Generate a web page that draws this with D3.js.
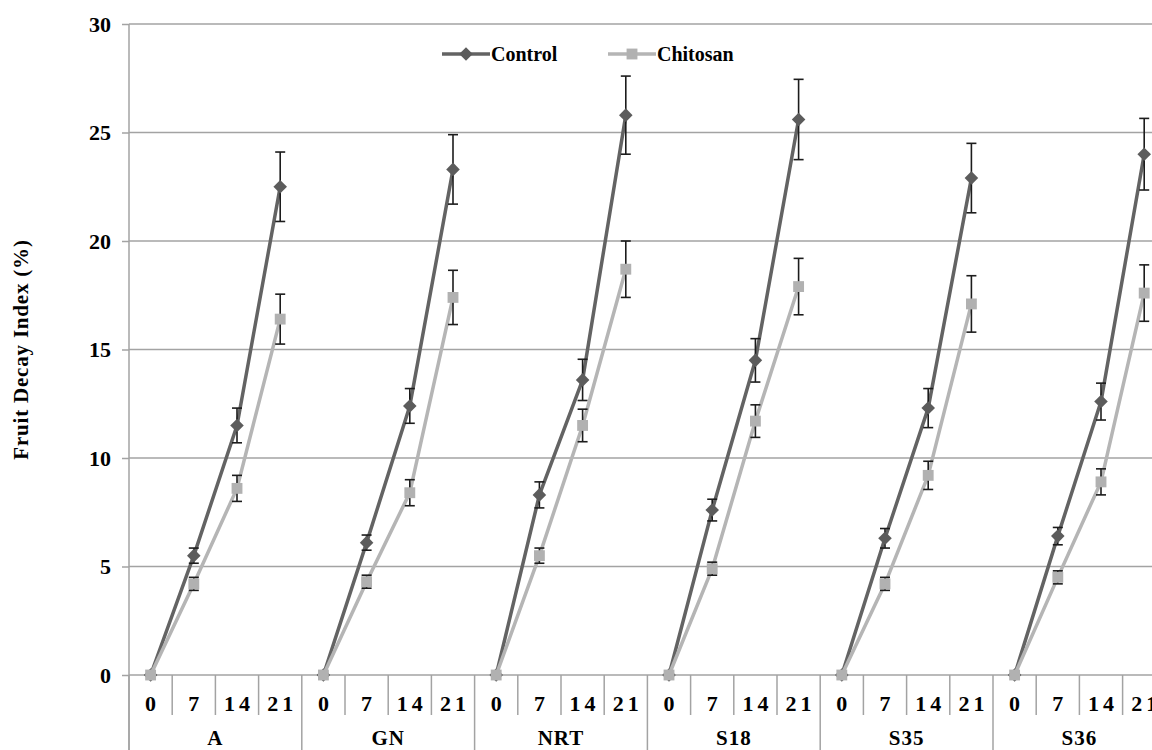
<!DOCTYPE html>
<html>
<head>
<meta charset="utf-8">
<script src="https://cdn.jsdelivr.net/npm/d3@7"></script>
<style>
  html, body { margin: 0; padding: 0; background: #fff; overflow: hidden; }
  svg { display: block; }
  text { font-family: "Liberation Serif", "Times New Roman", serif; font-weight: bold; fill: #000; }
</style>
</head>
<body>
<svg id="chart"></svg>
<script>
// cultivars on the outer axis, storage days on the inner axis
const groups = ["A", "GN", "NRT", "S18", "S35", "S36"];
const days = ["0", "7", "14", "21"];
const yTicks = [0, 5, 10, 15, 20, 25, 30];

// fruit decay index (%), one row per cultivar
const controlValues = [
  [0, 5.5, 11.5, 22.5],
  [0, 6.1, 12.4, 23.3],
  [0, 8.3, 13.6, 25.8],
  [0, 7.6, 14.5, 25.6],
  [0, 6.3, 12.3, 22.9],
  [0, 6.4, 12.6, 24.0]
];
const controlErrors = [
  [0, 0.35, 0.8, 1.6],
  [0, 0.35, 0.8, 1.6],
  [0, 0.6, 0.95, 1.8],
  [0, 0.5, 1.0, 1.85],
  [0, 0.45, 0.9, 1.6],
  [0, 0.4, 0.85, 1.65]
];
const chitosanValues = [
  [0, 4.2, 8.6, 16.4],
  [0, 4.3, 8.4, 17.4],
  [0, 5.5, 11.5, 18.7],
  [0, 4.9, 11.7, 17.9],
  [0, 4.2, 9.2, 17.1],
  [0, 4.5, 8.9, 17.6]
];
const chitosanErrors = [
  [0, 0.3, 0.6, 1.15],
  [0, 0.3, 0.6, 1.25],
  [0, 0.35, 0.75, 1.3],
  [0, 0.3, 0.75, 1.3],
  [0, 0.3, 0.65, 1.3],
  [0, 0.3, 0.6, 1.3]
];

const seriesNames = ["Control", "Chitosan"];

const W = 1152, H = 750;
const margin = { top: 24, left: 129 };
const band = 43.2;                       // width of one day slot
const plotBottom = 675;
const plotRight = margin.left + band * groups.length * days.length;

const series = [
  { name: seriesNames[0], values: controlValues, errors: controlErrors,
    line: "#636363", mark: "#5c5c5c", symbol: "diamond" },
  { name: seriesNames[1], values: chitosanValues, errors: chitosanErrors,
    line: "#b5b5b5", mark: "#b1b1b1", symbol: "square" }
];

const svg = d3.select("#chart").attr("width", W).attr("height", H);

const keys = [];
groups.forEach(g => days.forEach(d => keys.push(g + "|" + d)));

const x = d3.scaleBand()
  .domain(keys)
  .range([margin.left, plotRight]);

const y = d3.scaleLinear()
  .domain([0, 30])
  .range([plotBottom, margin.top]);

// horizontal gridlines
svg.append("g")
  .selectAll("line")
  .data(yTicks.filter(t => t > 0))
  .join("line")
  .attr("x1", margin.left).attr("x2", plotRight)
  .attr("y1", d => y(d)).attr("y2", d => y(d))
  .attr("stroke", "#a3a3a3").attr("stroke-width", 1.5);

// y axis
const yAxis = d3.axisLeft(y).tickValues(yTicks).tickSize(7).tickPadding(11);
const yAxisG = svg.append("g")
  .attr("transform", `translate(${margin.left},0)`)
  .call(yAxis);
yAxisG.select(".domain").remove();
yAxisG.selectAll(".tick line").attr("stroke", "#a3a3a3").attr("stroke-width", 1.5);
yAxisG.selectAll(".tick text")
  .attr("font-size", 22)
  .attr("font-family", "Liberation Serif")
  .attr("font-weight", "bold")
  .attr("dy", "0.34em");

// vertical axis line runs through the category label area
svg.append("line")
  .attr("x1", margin.left).attr("x2", margin.left)
  .attr("y1", margin.top).attr("y2", H)
  .attr("stroke", "#a3a3a3").attr("stroke-width", 1.5);

// x axis base line
svg.append("line")
  .attr("x1", margin.left).attr("x2", plotRight)
  .attr("y1", plotBottom).attr("y2", plotBottom)
  .attr("stroke", "#a3a3a3").attr("stroke-width", 1.5);

// inner dividers between days
svg.append("g")
  .selectAll("line")
  .data(keys.filter(k => k.split("|")[1] !== days[0]))
  .join("line")
  .attr("x1", d => x(d)).attr("x2", d => x(d))
  .attr("y1", plotBottom).attr("y2", plotBottom + 40)
  .attr("stroke", "#a3a3a3").attr("stroke-width", 1.5);

// outer dividers between cultivars
svg.append("g")
  .selectAll("line")
  .data(groups)
  .join("line")
  .attr("x1", g => x(g + "|" + days[0])).attr("x2", g => x(g + "|" + days[0]))
  .attr("y1", plotBottom).attr("y2", H)
  .attr("stroke", "#a3a3a3").attr("stroke-width", 1.5);

// day labels
svg.append("g")
  .selectAll("text")
  .data(keys)
  .join("text")
  .attr("x", d => x(d) + x.bandwidth() / 2 + (d.split("|")[1].length > 1 ? 2 : 0))
  .attr("y", 711)
  .attr("text-anchor", "middle")
  .attr("font-size", 22)
  .attr("letter-spacing", d => d.split("|")[1].length > 1 ? 4 : 0)
  .text(d => d.split("|")[1]);

// cultivar labels
svg.append("g")
  .selectAll("text")
  .data(groups)
  .join("text")
  .attr("x", g => x(g + "|" + days[0]) + x.bandwidth() * days.length / 2)
  .attr("y", 745)
  .attr("text-anchor", "middle")
  .attr("font-size", 21)
  .attr("letter-spacing", 1)
  .text(g => g);

// y axis title
svg.append("text")
  .attr("transform", `translate(28,${(y(0) + y(30)) / 2}) rotate(-90)`)
  .attr("text-anchor", "middle")
  .attr("font-size", 21)
  .attr("letter-spacing", 0.8)
  .text("Fruit Decay Index (%)");

const symbolPath = s => s === "diamond"
  ? d3.symbol(d3.symbolSquare, 92)()
  : d3.symbol(d3.symbolSquare, 118)();
const symbolRot = s => s === "diamond" ? 45 : 0;

const cx = d => x(d.key) + x.bandwidth() / 2;

const line = d3.line()
  .x(cx)
  .y(d => y(d.value));

series.forEach(s => {
  const pts = groups.map((g, gi) => days.map((d, di) => ({
    key: g + "|" + d, value: s.values[gi][di], err: s.errors[gi][di]
  })));

  const sg = svg.append("g");

  // one line per cultivar, not joined across cultivars
  sg.selectAll("path.line")
    .data(pts)
    .join("path")
    .attr("class", "line")
    .attr("d", line)
    .attr("fill", "none")
    .attr("stroke", s.line)
    .attr("stroke-width", 3.5)
    .attr("stroke-linejoin", "round");

  const flat = pts.flat();
  const withErr = flat.filter(d => d.err > 0);

  // error bars sit under the markers
  const eg = sg.append("g")
    .attr("stroke", "#1c1c1c")
    .attr("stroke-width", 1.6)
    .attr("fill", "none");
  eg.selectAll("line.v")
    .data(withErr)
    .join("line")
    .attr("class", "v")
    .attr("x1", cx).attr("x2", cx)
    .attr("y1", d => y(d.value + d.err)).attr("y2", d => y(d.value - d.err));
  eg.selectAll("line.top")
    .data(withErr)
    .join("line")
    .attr("class", "top")
    .attr("x1", d => cx(d) - 5).attr("x2", d => cx(d) + 5)
    .attr("y1", d => y(d.value + d.err)).attr("y2", d => y(d.value + d.err));
  eg.selectAll("line.bot")
    .data(withErr)
    .join("line")
    .attr("class", "bot")
    .attr("x1", d => cx(d) - 5).attr("x2", d => cx(d) + 5)
    .attr("y1", d => y(d.value - d.err)).attr("y2", d => y(d.value - d.err));

  sg.selectAll("path.mark")
    .data(flat)
    .join("path")
    .attr("class", "mark")
    .attr("d", symbolPath(s.symbol))
    .attr("transform", d => `translate(${cx(d)},${y(d.value)}) rotate(${symbolRot(s.symbol)})`)
    .attr("fill", s.mark);
});

// legend
const legendX = [442, 608];
const legend = svg.append("g");
series.forEach((s, i) => {
  const lg = legend.append("g").attr("transform", `translate(${legendX[i]},54)`);
  lg.append("line")
    .attr("x1", 0).attr("x2", 48)
    .attr("stroke", s.line).attr("stroke-width", 3.5);
  lg.append("path")
    .attr("d", symbolPath(s.symbol))
    .attr("transform", `translate(24,0) rotate(${symbolRot(s.symbol)})`)
    .attr("fill", s.mark);
  lg.append("text")
    .attr("x", 49).attr("y", 7)
    .attr("font-size", 20)
    .text(s.name);
});
</script>
</body>
</html>
